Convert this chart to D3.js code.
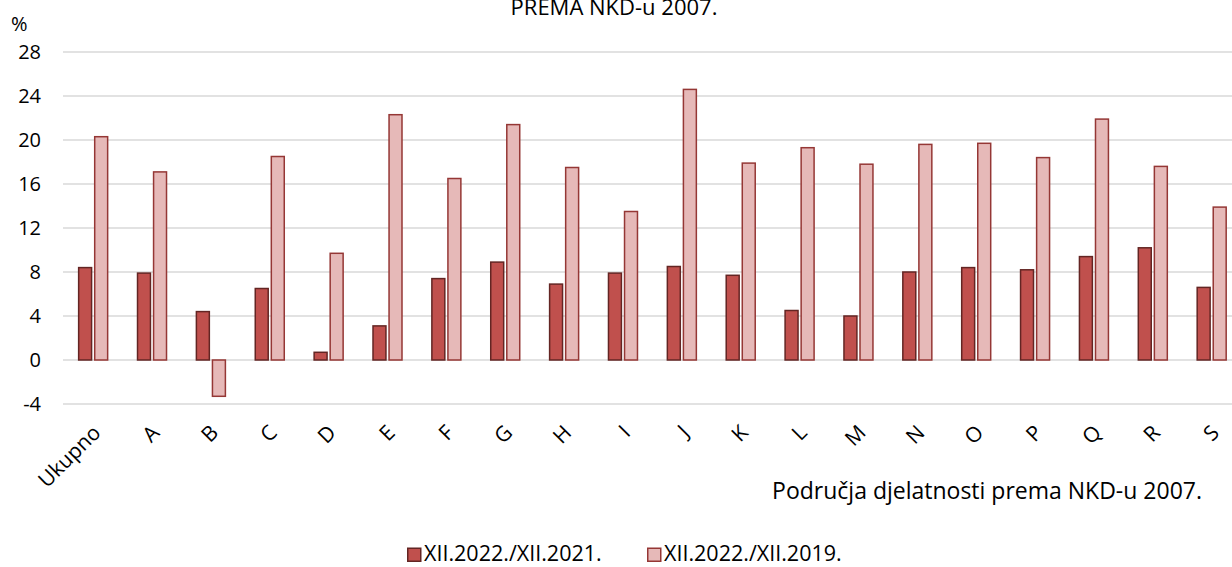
<!DOCTYPE html>
<html>
<head>
<meta charset="utf-8">
<script src="https://cdn.jsdelivr.net/npm/d3@7"></script>
<style>
    body { margin: 0; background: #fff; }
    svg { display: block; font-family: "Open Sans", sans-serif; }
</style>
</head>
<body>
<div id="chart"></div>
<script>
var categories = ["Ukupno", "A", "B", "C", "D", "E", "F", "G", "H", "I", "J", "K", "L", "M", "N", "O", "P", "Q", "R", "S"];
var series = ["XII.2022./XII.2021.", "XII.2022./XII.2019."];
var values2021 = [8.4, 7.9, 4.4, 6.5, 0.7, 3.1, 7.4, 8.9, 6.9, 7.9, 8.5, 7.7, 4.5, 4.0, 8.0, 8.4, 8.2, 9.4, 10.2, 6.6];
var values2019 = [20.3, 17.1, -3.3, 18.5, 9.7, 22.3, 16.5, 21.4, 17.5, 13.5, 24.6, 17.9, 19.3, 17.8, 19.6, 19.7, 18.4, 21.9, 17.6, 13.9];
var yTicks = [-4, 0, 4, 8, 12, 16, 20, 24, 28];

var width = 1232,
    height = 567;

var fills = ["#c0504d", "#e6b9b8"];
var strokes = ["#632523", "#953735"];

var svg = d3.select("#chart")
    .append("svg")
    .attr("width", width)
    .attr("height", height);

var x = d3.scaleBand().domain(categories).range([63.4, 1240.8]);
var x1 = d3.scaleBand().domain(series).range([14.5, 45]).paddingInner(0.1);
var y = d3.scaleLinear().domain([-4, 28]).range([404, 52]);

// gridlines
svg.append("g")
    .selectAll("line")
    .data(yTicks)
    .enter()
    .append("line")
    .attr("x1", 63)
    .attr("x2", width)
    .attr("y1", d => y(d))
    .attr("y2", d => y(d))
    .attr("stroke", "#d9d9d9")
    .attr("stroke-width", 1.5);

// y axis labels (plain hyphen for negatives, like the original)
var yAxis = d3.axisLeft(y).tickValues(yTicks).tickSize(0).tickPadding(0)
    .tickFormat(d => String(d));
var gy = svg.append("g")
    .attr("transform", "translate(41,0)")
    .call(yAxis);
gy.select(".domain").remove();
gy.selectAll("text")
    .attr("font-size", 20)
    .attr("font-family", "Open Sans, sans-serif")
    .attr("fill", "#000");

svg.append("text")
    .attr("x", 11)
    .attr("y", 31)
    .attr("font-size", 20)
    .text("%");

// bars
var rows = categories.map((c, i) => ({ cat: c, vals: [values2021[i], values2019[i]] }));

var groups = svg.append("g")
    .selectAll("g")
    .data(rows)
    .enter()
    .append("g")
    .attr("transform", d => "translate(" + x(d.cat) + ",0)");

groups.selectAll("rect")
    .data(d => d.vals.map((v, k) => ({ s: series[k], k: k, v: v })))
    .enter()
    .append("rect")
    .attr("x", d => x1(d.s) + 0.75)
    .attr("width", x1.bandwidth() - 1.5)
    .attr("y", d => y(Math.max(0, d.v)))
    .attr("height", d => Math.abs(y(d.v) - y(0)))
    .attr("fill", d => fills[d.k])
    .attr("stroke", d => strokes[d.k])
    .attr("stroke-width", 1.5);

// x axis labels, rotated
var xAxis = d3.axisBottom(x).tickSize(0).tickPadding(0);
var gx = svg.append("g")
    .call(xAxis);
gx.select(".domain").remove();
gx.selectAll(".tick text")
    .attr("y", 0)
    .attr("dy", 0)
    .attr("font-size", 21)
    .attr("font-family", "Open Sans, sans-serif")
    .attr("fill", "#000")
    .attr("text-anchor", "end")
    .attr("transform", "translate(9,434) rotate(-45)");

// titles
svg.append("text")
    .attr("x", 614)
    .attr("y", 15)
    .attr("text-anchor", "middle")
    .attr("font-size", 22)
    .text("PREMA NKD-u 2007.");

svg.append("text")
    .attr("x", 1202)
    .attr("y", 499)
    .attr("text-anchor", "end")
    .attr("font-size", 23)
    .text("Područja djelatnosti prema NKD-u 2007.");

// legend
var legendX = [407, 647];
var legend = svg.append("g")
    .selectAll("g")
    .data(series)
    .enter()
    .append("g")
    .attr("transform", (d, i) => "translate(" + legendX[i] + ",547)");

legend.append("rect")
    .attr("x", 0.75)
    .attr("y", 1.25)
    .attr("width", 13)
    .attr("height", 13)
    .attr("fill", (d, i) => fills[i])
    .attr("stroke", (d, i) => strokes[i])
    .attr("stroke-width", 1.5);

legend.append("text")
    .attr("x", 17)
    .attr("y", 14)
    .attr("font-size", 21.5)
    .text(d => d);
</script>
</body>
</html>
